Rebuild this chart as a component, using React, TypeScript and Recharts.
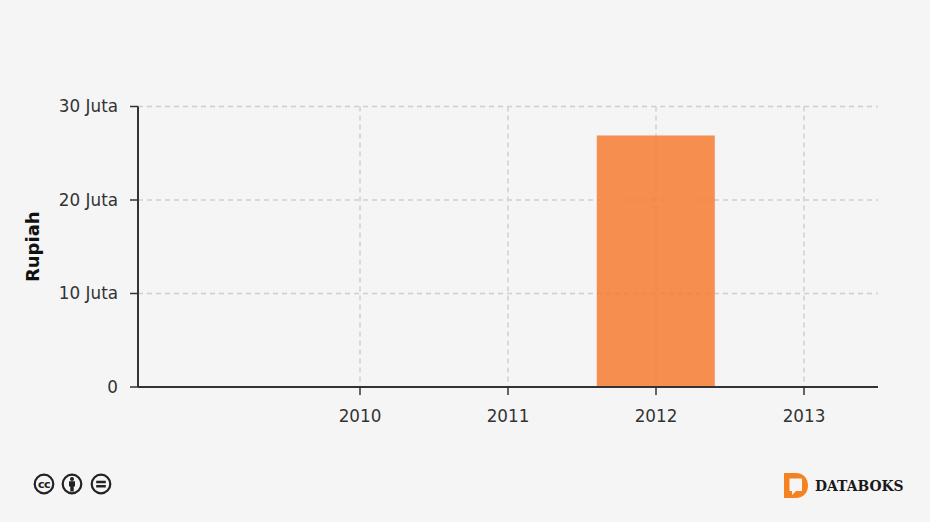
import { Bar, BarChart, CartesianGrid, XAxis, YAxis } from "recharts"

const years = ["2009", "2010", "2011", "2012", "2013"]
const values = [null, 0, 0, 26900000, 0]
const xTicks = ["2010", "2011", "2012", "2013"]
const yTicks = [0, 10000000, 20000000, 30000000]

const data = years.map((year, i) => ({ year, value: values[i] }))
const font = "'DejaVu Sans', sans-serif"

function formatJuta(value: number) {
  return value === 0 ? "0" : `${value / 1000000} Juta`
}

function CcBadge({ x, children }: { x: number; children: React.ReactNode }) {
  return (
    <g transform={`translate(${x} 484)`}>
      <circle r={9.3} fill="#f5f5f5" stroke="#222" strokeWidth={2.2} />
      {children}
    </g>
  )
}

function Footer() {
  return (
    <svg width={930} height={522} style={{ position: "absolute", left: 0, top: 0, pointerEvents: "none" }}>
      <CcBadge x={44}>
        <text x={0} y={3.6} textAnchor="middle" fontFamily={font} fontWeight={700} fontSize={11} letterSpacing={-0.5} fill="#222">
          cc
        </text>
      </CcBadge>
      <CcBadge x={72}>
        <circle cy={-5} r={2} fill="#222" />
        <path d="M-3 -2.8H3V2.4H1.7V7.5H-1.7V2.4H-3Z" fill="#222" />
      </CcBadge>
      <CcBadge x={101}>
        <path d="M-4.8 -3.2H4.8V-0.8H-4.8ZM-4.8 1H4.8V3.4H-4.8Z" fill="#222" />
      </CcBadge>
      <path
        d="M784 473H796C803 473 808 478 808 485.5C808 493 803 498 796 498H784ZM789.5 478.5V491H792V495L796 491H802V478.5Z"
        fill="#f58220"
        fillRule="evenodd"
      />
      <text x={815} y={491} fontFamily="'DejaVu Serif', serif" fontWeight={700} fontSize={13.9} fill="#1a1a1a">
        DATABOKS
      </text>
    </svg>
  )
}

export default function App() {
  return (
    <div style={{ position: "absolute", left: 0, top: 0, width: 930, height: 522, background: "#f5f5f5" }}>
      <BarChart
        width={930}
        height={522}
        data={data}
        barCategoryGap="10%"
        margin={{ top: 106.5, right: 52, bottom: 0, left: 0 }}
      >
        <CartesianGrid stroke="#cfcfcf" strokeDasharray="5 4" strokeWidth={1.5} syncWithTicks />
        <XAxis
          dataKey="year"
          ticks={xTicks}
          interval={0}
          height={135}
          tickSize={8}
          tickMargin={15}
          axisLine={{ stroke: "#333", strokeWidth: 2 }}
          tickLine={{ stroke: "#333", strokeWidth: 1.5 }}
          tick={{ fill: "#333", fontSize: 16.8, fontFamily: font }}
        />
        <YAxis
          width={138}
          domain={[0, 30000000]}
          ticks={yTicks}
          tickFormatter={formatJuta}
          tickSize={8}
          tickMargin={12}
          axisLine={{ stroke: "#333", strokeWidth: 2 }}
          tickLine={{ stroke: "#333", strokeWidth: 1.5 }}
          tick={{ fill: "#333", fontSize: 16.8, fontFamily: font }}
          label={{
            value: "Rupiah",
            angle: -90,
            position: "insideLeft",
            offset: 0,
            dx: 33,
            style: { fill: "#111", fontSize: 18, fontWeight: 700, fontFamily: font, textAnchor: "middle" },
          }}
        />
        <Bar dataKey="value" fill="#f47b30" fillOpacity={0.85} isAnimationActive={false} />
      </BarChart>
      <Footer />
    </div>
  )
}
